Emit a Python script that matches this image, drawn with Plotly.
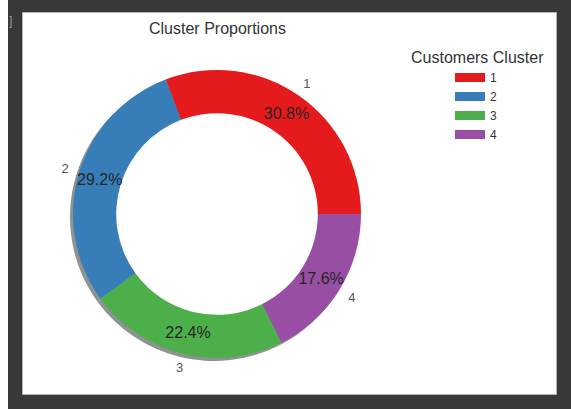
import plotly.graph_objects as go

# ---- data ----
clusters = ["1", "2", "3", "4"]
shares = [30.8, 29.2, 22.4, 17.6]
colors = ["#e41a1c", "#377eb8", "#4daf4a", "#984ea3"]
title_text = "Cluster Proportions"
legend_title = "Customers Cluster"

W, H = 571, 409
FONT = "Liberation Sans, Arial, sans-serif"

# geometry in pixels
cx, cy = 217, 214          # pie centre (from top)
R = 144                    # outer radius
SH = 3                     # shadow offset
HOLE = 0.7


def xdom(c, r):
    return [(c - r) / W, (c + r) / W]


def ydom(c, r):
    return [1 - (c + r) / H, 1 - (c - r) / H]


rot = 90 - 360 * shares[0] / sum(shares)
common = dict(labels=clusters, values=shares, sort=False,
              direction="counterclockwise", rotation=rot, showlegend=False)

fig = go.Figure()

# shadow (full disc, offset down-left)
fig.add_trace(go.Pie(
    **common, hole=0, textinfo="none", hoverinfo="skip",
    marker=dict(colors=["#8e9392"] * 4, line=dict(width=0)),
    domain=dict(x=xdom(cx - SH, R), y=ydom(cy + SH, R)),
))

# white centre disc
fig.add_trace(go.Pie(
    labels=[""], values=[1], sort=False, showlegend=False, hole=0,
    textinfo="none", hoverinfo="skip",
    marker=dict(colors=["white"], line=dict(width=0)),
    domain=dict(x=xdom(cx, R * HOLE + 1), y=ydom(cy, R * HOLE + 1)),
))

# main donut
fig.add_trace(go.Pie(
    **common, hole=HOLE, textinfo="none",
    marker=dict(colors=colors, line=dict(width=0)),
    domain=dict(x=xdom(cx, R), y=ydom(cy, R)),
))

# percentage labels (transparent ring centred at 0.85 R)
PO = 1.10
PI = 0.60
fig.add_trace(go.Pie(
    **common, hole=PI / PO, texttemplate="%{percent:.1%}", textposition="inside",
    insidetextorientation="horizontal", hoverinfo="skip",
    insidetextfont=dict(family=FONT, size=16, color="#262626"),
    marker=dict(colors=["rgba(0,0,0,0)"] * 4, line=dict(width=0)),
    domain=dict(x=xdom(cx, R * PO), y=ydom(cy, R * PO)),
))

# outer category labels (transparent ring)
fig.add_trace(go.Pie(
    **common, hole=1 / 1.2, texttemplate="%{label}", textposition="inside",
    insidetextorientation="horizontal", hoverinfo="skip",
    insidetextfont=dict(family=FONT, size=13, color="#555555"),
    marker=dict(colors=["rgba(0,0,0,0)"] * 4, line=dict(width=0)),
    domain=dict(x=xdom(cx, R * 1.2), y=ydom(cy, R * 1.2)),
))

# legend entries (wide patches)
for lab, col in zip(clusters, colors):
    fig.add_trace(go.Scatter(
        x=[None], y=[None], mode="lines", name=lab,
        line=dict(color=col, width=9), showlegend=True,
    ))

fig.update_layout(
    width=W, height=H,
    margin=dict(l=0, r=0, t=0, b=0),
    paper_bgcolor="#383838",
    plot_bgcolor="rgba(0,0,0,0)",
    xaxis=dict(visible=False, range=[0, 1]),
    yaxis=dict(visible=False, range=[0, 1]),
    font=dict(family=FONT, color="#333333"),
    legend=dict(
        x=450 / W, y=1 - 63 / H, xanchor="left", yanchor="top",
        bgcolor="rgba(0,0,0,0)", font=dict(family=FONT, size=12, color="#333333"),
        itemwidth=30, tracegroupgap=0,
    ),
    shapes=[
        dict(type="rect", xref="paper", yref="paper", layer="below",
             x0=0, x1=8 / W, y0=0, y1=1, fillcolor="white", line=dict(width=0)),
        dict(type="rect", xref="paper", yref="paper", layer="below",
             x0=22.5 / W, x1=556.5 / W, y0=1 - 394.5 / H, y1=1 - 12.5 / H,
             fillcolor="white", line=dict(color="#b4b4b4", width=1)),
    ],
    annotations=[
        dict(text=title_text, x=217 / W, y=1 - 29 / H, xref="paper", yref="paper",
             xanchor="center", yanchor="middle",
             showarrow=False, font=dict(family=FONT, size=16, color="#333333")),
        dict(text=legend_title, x=477 / W, y=1 - 58 / H, xref="paper", yref="paper",
             xanchor="center", yanchor="middle",
             showarrow=False, font=dict(family=FONT, size=16, color="#333333")),
        dict(text="]", x=10 / W, y=1 - 21 / H, xref="paper", yref="paper",
             xanchor="center", yanchor="middle",
             showarrow=False, font=dict(family=FONT, size=12, color="#9a9a9a")),
    ],
)

fig.write_html("out.html")
